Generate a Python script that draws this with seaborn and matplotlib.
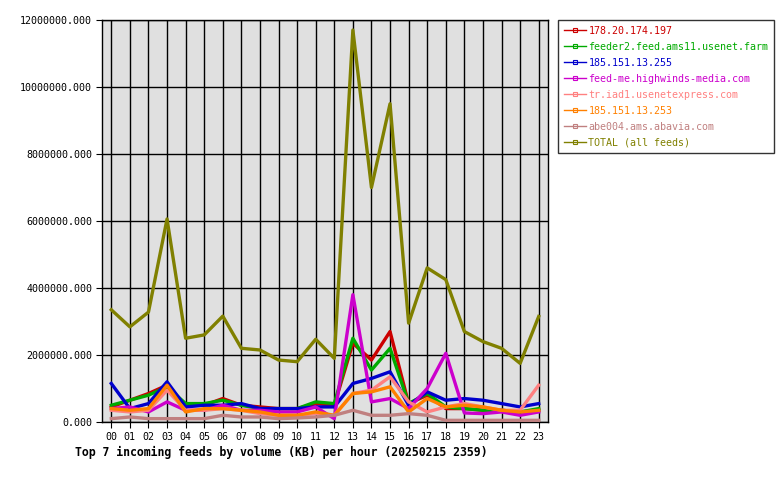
import numpy as np
import pandas as pd
import seaborn as sns
import matplotlib.pyplot as plt
from matplotlib.lines import Line2D

# 每小时数据（KB）
hours = ['%02d' % h for h in range(24)]
feeds = ['178.20.174.197', 'feeder2.feed.ams11.usenet.farm', '185.151.13.255',
         'feed-me.highwinds-media.com', 'tr.iad1.usenetexpress.com',
         '185.151.13.253', 'abe004.ams.abavia.com', 'TOTAL (all feeds)']
colors = ['#cc0000', '#00aa00', '#0000cc', '#cc00cc', '#ff8080',
          '#ff8000', '#c08080', '#808000']

red = [450000, 650000, 850000, 1100000, 500000, 500000, 700000, 500000, 450000, 400000, 400000, 550000,
       500000, 2350000, 1850000, 2700000, 550000, 800000, 400000, 400000, 350000, 350000, 300000, 350000]
green = [500000, 650000, 800000, 1050000, 550000, 550000, 650000, 500000, 400000, 400000, 400000, 600000,
         550000, 2500000, 1550000, 2200000, 550000, 850000, 450000, 400000, 350000, 350000, 300000, 400000]
blue = [1150000, 400000, 550000, 1200000, 450000, 500000, 500000, 550000, 400000, 400000, 400000, 450000,
        450000, 1150000, 1300000, 1500000, 500000, 900000, 650000, 700000, 650000, 550000, 450000, 550000]
magenta = [400000, 450000, 300000, 600000, 350000, 350000, 500000, 350000, 350000, 300000, 300000, 450000,
           100000, 3800000, 600000, 700000, 400000, 1000000, 2050000, 270000, 250000, 300000, 200000, 300000]
salmon = [350000, 300000, 350000, 950000, 350000, 350000, 400000, 350000, 250000, 200000, 200000, 250000,
          200000, 850000, 950000, 1350000, 600000, 300000, 450000, 550000, 450000, 350000, 350000, 1100000]
orange = [400000, 350000, 400000, 1100000, 300000, 400000, 400000, 350000, 300000, 200000, 200000, 300000,
          200000, 850000, 900000, 1050000, 300000, 700000, 450000, 500000, 450000, 350000, 300000, 350000]
rosy = [100000, 150000, 100000, 100000, 100000, 100000, 200000, 150000, 150000, 100000, 120000, 150000,
        200000, 350000, 200000, 200000, 250000, 200000, 50000, 50000, 50000, 50000, 50000, 50000]
total = [3350000, 2840000, 3280000, 6060000, 2500000, 2600000, 3160000, 2200000, 2150000, 1850000, 1800000, 2470000,
         1900000, 11700000, 7000000, 9500000, 2950000, 4600000, 4250000, 2700000, 2400000, 2200000, 1750000, 3150000]

series = [red, green, blue, magenta, salmon, orange, rosy, total]
df = pd.DataFrame({
    'hour': np.tile(np.arange(24), len(feeds)),
    'kb': np.concatenate(series),
    'feed': np.repeat(feeds, 24),
})

mono = 'DejaVu Sans Mono'
fs = 7.2
fig = plt.figure(figsize=(7.8, 4.8), dpi=100)
ax = fig.add_axes([102 / 780, 58 / 480, 446 / 780, 402 / 480])
ax.set_facecolor('#e0e0e0')

sns.lineplot(data=df, x='hour', y='kb', hue='feed', hue_order=feeds,
             palette=colors, linewidth=2.4, legend=False, ax=ax, zorder=3)

ax.set_xlim(-0.5, 23.5)
ax.set_ylim(0, 12000000)
ax.set_xticks(range(24))
ax.set_xticklabels(hours, fontfamily=mono, fontsize=fs)
yt = np.arange(0, 12000001, 2000000)
ax.set_yticks(yt)
ax.set_yticklabels(['%.3f' % v for v in yt], fontfamily=mono, fontsize=fs)
ax.grid(True, color='black', linewidth=1.0, zorder=1)
ax.set_axisbelow(True)
ax.tick_params(direction='out', length=4, color='black', pad=3)
for s in ax.spines.values():
    s.set_color('black')
    s.set_linewidth(1.0)
ax.set_xlabel('')
ax.set_ylabel('')

handles = [Line2D([0], [0], color=c, linewidth=1, marker='s', markersize=2.5,
                  fillstyle='none', markeredgewidth=0.8) for c in colors]
leg = fig.legend(handles, feeds, loc='upper left', bbox_to_anchor=(558 / 780, 1 - 20 / 480),
                 frameon=True, fancybox=False, edgecolor='black', handlelength=2.2,
                 handletextpad=0.3, labelspacing=0.6, borderpad=0.55, borderaxespad=0,
                 prop={'family': mono, 'size': fs})
leg.get_frame().set_linewidth(1.0)
for t, c in zip(leg.get_texts(), colors):
    t.set_color(c)

fig.text(75 / 780, 1 - 452 / 480, 'Top 7 incoming feeds by volume (KB) per hour (20250215 2359)',
         fontfamily=mono, fontsize=8.3, fontweight='bold', va='center', ha='left')

fig.savefig('out.png', dpi=100)
